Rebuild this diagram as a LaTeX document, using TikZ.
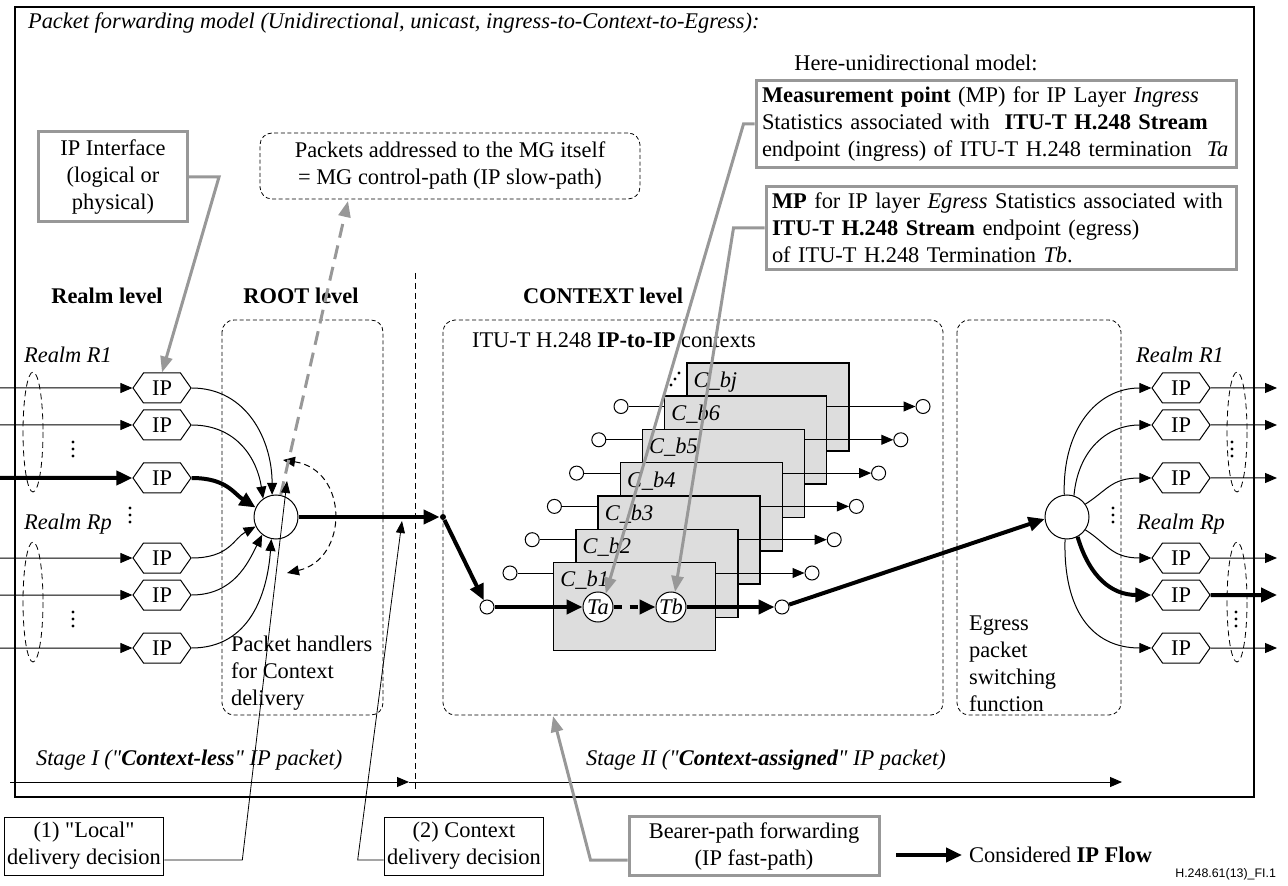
\documentclass[tikz,border=0pt]{standalone}
\usepackage{fontspec}
\setmainfont{Liberation Serif}
\newfontfamily\idfont{Liberation Sans}
\usetikzlibrary{arrows.meta,shapes.symbols,positioning}

\definecolor{leadgray}{RGB}{152,152,152}
\definecolor{ctxgray}{RGB}{221,221,221}
\newcommand{\figfont}{\fontsize{11.2pt}{13.5pt}\selectfont}
\newcommand{\qq}{\textquotedbl}

\tikzset{
  zone/.style={draw, line width=0.4pt, dash pattern=on 2pt off 1.3pt, rounded corners=6pt},
  ring/.style={draw, line width=0.4pt, dash pattern=on 3pt off 2pt},
  iphex/.style={draw, fill=white, line width=0.5pt, signal, signal to=west and east,
    signal pointer angle=110, minimum width=29pt, minimum height=15pt, inner sep=1pt},
  hub/.style={draw, fill=white, circle, line width=0.5pt, minimum size=22pt, inner sep=0pt},
  port/.style={draw, fill=white, circle, line width=0.5pt, minimum size=7pt, inner sep=0pt},
  term/.style={draw, fill=white, circle, line width=0.5pt, minimum size=15pt, inner sep=0pt, font=\figfont\itshape},
  joint/.style={circle, fill, minimum size=3pt, inner sep=0pt},
  ctxbox/.style={draw, fill=ctxgray, line width=0.7pt, minimum width=81pt, minimum height=44pt, anchor=north west},
  graybox/.style={draw=leadgray, line width=1.5pt, inner sep=3pt},
  notebox/.style={draw, line width=0.5pt, inner sep=1.5pt, align=center},
  flow/.style={line width=0.5pt, -{Triangle[length=6pt,width=5pt]}},
  bigflow/.style={line width=2pt, -{Triangle[length=8pt,width=7pt]}},
  leader/.style={leadgray, line width=1.5pt, -{Triangle[length=8pt,width=6pt]}},
  pointer/.style={line width=0.4pt, -{Triangle[length=6pt,width=4.5pt]}},
}

\begin{document}
\begin{tikzpicture}[x=0.5pt,y=-0.5pt,font=\figfont]
\useasboundingbox (0,0) rectangle (1288,886);

% frame and headings
\draw[line width=0.8pt] (15,7) rectangle (1254,797);
\node[anchor=base west, font=\figfont\itshape] (title) at (21,29)
  {Packet forwarding model (Unidirectional, unicast, ingress-to-Context-to-Egress):};
\node[anchor=base] (here) at (916,71) {Here-unidirectional model:};
\node[anchor=base, font=\figfont\bfseries] (realmlvl) at (107,304) {Realm level};
\node[anchor=base, font=\figfont\bfseries] (rootlvl) at (301,304) {ROOT level};
\node[anchor=base west, font=\figfont\bfseries] (ctxlvl) at (516,304) {CONTEXT level};
\draw[line width=0.4pt, dash pattern=on 3pt off 2pt] (415,273) -- (415,790);

% level zones
\draw[zone] (222,320) rectangle (383,715);
\draw[zone] (443,320) rectangle (943,715);
\draw[zone] (957,320) rectangle (1121,715);
\node[anchor=base west] (ctxtxt) at (465,348) {ITU-T H.248 \textbf{IP-to-IP} contexts};
\node[anchor=west, align=left] (handlers) at (224,673) {Packet handlers\\for Context\\delivery};
\node[anchor=west, align=left] (egtxt) at (962,664) {Egress\\packet\\switching\\function};

% callout boxes
\node[graybox, align=center, minimum width=74.5pt, minimum height=45pt] (ipif) at (113,177)
  {IP Interface\\(logical or\\physical)};
\node[zone, align=center, minimum width=190pt, minimum height=33pt, inner sep=2pt] (pk) at (450,166)
  {Packets addressed to the MG itself\\= MG control-path (IP slow-path)};
\node[graybox, text width=234pt, align=left] (mp1) at (996,124)
  {\textbf{Measurement point} (MP) for IP Layer \textit{Ingress}\\
   Statistics associated with \ \textbf{ITU-T H.248 Stream}\\
   endpoint (ingress) of ITU-T H.248 termination \ \textit{Ta}};
\node[graybox, text width=229pt, align=left] (mp2) at (1001,228)
  {\textbf{MP} for IP layer \textit{Egress} Statistics associated with\\
   \textbf{ITU-T H.248 Stream} endpoint (egress)\\
   of ITU-T H.248 Termination \textit{Tb}.};

% realms and IP interfaces
\foreach \i/\y in {1/388,2/425,3/478,4/558,5/595,6/648}{
  \coordinate (lsrc\i) at (0,\y);
  \coordinate (rdst\i) at (1277,\y);
  \node[iphex] (li\i) at (162,\y) {IP};
  \node[iphex] (ri\i) at (1181,\y) {IP};
}
\foreach \i in {1,2,4,5,6} \draw[flow] (lsrc\i) -- (li\i);
\draw[bigflow] (lsrc3) -- (li3);
\foreach \i in {1,2,3,4,6} \draw[flow] (ri\i) -- (rdst\i);
\draw[bigflow] (ri5) -- (rdst5);

\draw[ring] (33,432) ellipse (10 and 60);
\draw[ring] (33,602) ellipse (10 and 60);
\draw[ring] (1237,432) ellipse (10 and 60);
\draw[ring] (1237,602) ellipse (10 and 60);
\foreach \p in {(73,449),(130,515),(73,619),(1232,449),(1113,515),(1236,619)}
  \foreach \d in {-7,0,7} \fill \p ++(0,\d) circle[radius=0.8pt];

\node[anchor=base, font=\figfont\itshape] (r1l) at (68,363) {Realm R1};
\node[anchor=base, font=\figfont\itshape] (rpl) at (68,530) {Realm Rp};
\node[anchor=base, font=\figfont\itshape] (r1r) at (1180,363) {Realm R1};
\node[anchor=base, font=\figfont\itshape] (rpr) at (1181,530) {Realm Rp};

% ROOT packet handler
\node[hub] (root) at (276,517) {};
\draw[flow] (li1.east) .. controls +(55,0) and +(0,-55) .. (root.100);
\draw[flow] (li2.east) .. controls +(45,0) and +(-6,-40) .. (root.125);
\draw[bigflow] (li3.east) .. controls +(35,0) and +(-22,-14) .. (root.155);
\draw[flow] (li4.east) .. controls +(38,0) and +(-22,12) .. (root.205);
\draw[flow] (li5.east) .. controls +(42,0) and +(-14,28) .. (root.232);
\draw[flow] (li6.east) .. controls +(58,0) and +(-4,55) .. (root.258);
\coordinate (lpa) at (283,460);
\coordinate (lpb) at (287,573);
\draw[line width=0.5pt, dash pattern=on 3pt off 2pt,
  {Triangle[length=6pt,width=5pt]}-{Triangle[length=6pt,width=5pt]}]
  (lpa) .. controls (349,470) and (349,559) .. (lpb);

% egress switch
\node[hub] (eg) at (1067,517) {};
\draw[flow] (eg.97) .. controls +(-2,-65) and +(-55,0) .. (ri1.west);
\draw[flow] (eg.72) .. controls +(4,-45) and +(-45,0) .. (ri2.west);
\draw[flow] (eg.35) .. controls +(22,-14) and +(-40,0) .. (ri3.west);
\draw[flow] (eg.-35) .. controls +(22,14) and +(-40,0) .. (ri4.west);
\draw[bigflow] (eg.-62) .. controls +(12,40) and +(-40,0) .. (ri5.west);
\draw[flow] (eg.-95) .. controls +(-2,70) and +(-60,0) .. (ri6.west);

% stack of contexts, back to front
\foreach \k/\lab in {7/j,6/6,5/5,4/4,3/3,2/2,1/1}{
  \node[ctxbox] (cb\k) at ({553+22.2*(\k-1)},{562-33.3*(\k-1)}) {};
  \node[anchor=north west, inner sep=0pt, font=\figfont\itshape] (cbl\k)
    at ([xshift=3.5pt,yshift=-4.5pt]cb\k.north west) {C\_b\lab};
  \ifnum\k<7
    \node[port] (inp\k) at ({510+22.2*(\k-1)},{573-33.3*(\k-1)}) {};
    \node[port] (outp\k) at ({812+22.2*(\k-1)},{573-33.3*(\k-1)}) {};
    \draw[line width=0.5pt] (inp\k) -- (inp\k -| cb\k.west);
    \draw[flow] (inp\k -| cb\k.east) -- (outp\k);
  \fi
}
\foreach \d in {0,1,2} \fill ({671+4*\d},{385-6*\d}) circle[radius=0.8pt];

% considered flow
\node[joint] (split) at (443,517) {};
\node[port] (fin) at (487,607) {};
\node[term] (ta) at (598,607) {Ta};
\node[term] (tb) at (671,607) {Tb};
\node[port] (fout) at (782,607) {};
\draw[bigflow] (root) -- (split);
\draw[bigflow] (split) -- (fin);
\draw[bigflow] (fin) -- (ta);
\draw[bigflow, dash pattern=on 4pt off 4pt] (ta) -- (tb);
\draw[bigflow] (tb) -- (fout);
\draw[bigflow] (fout) -- (eg.185);

% gray leaders
\coordinate (pktip) at (348,201);
\draw[leader, dash pattern=on 7pt off 4pt] (root.78) -- (pktip);
\draw[leader] (ipif.east) -- ++(30,0) -- (li1.north);
\draw[leader] (mp1.west) -- ++(-11,0) -- (ta.60);
\draw[leader] (mp2.west) -- ++(-31,0) -- (tb.75);

% stages
\coordinate (s0) at (10,782);
\coordinate (s1) at (409,782);
\coordinate (s2) at (1122,782);
\draw[flow] (s0) -- (s1);
\draw[flow] (s1) -- (s2);
\node[anchor=base west, font=\figfont\itshape] (stage1) at (29,765)
  {Stage I (\qq\textbf{Context-less}\qq\ IP packet)};
\node[anchor=base west, font=\figfont\itshape] (stage2) at (579,765)
  {Stage II (\qq\textbf{Context-assigned}\qq\ IP packet)};

% bottom notes
\node[notebox, minimum width=74.5pt, minimum height=29pt] (local) at (84,846)
  {(1) \qq Local\qq\\delivery decision};
\node[notebox, minimum width=74pt, minimum height=29pt] (ctxdec) at (464,846)
  {(2) Context\\delivery decision};
\node[graybox, align=center, minimum width=125pt, minimum height=29pt] (bearer) at (754,846)
  {Bearer-path forwarding\\(IP fast-path)};
\coordinate (loctip) at (287,481);
\coordinate (ctxtip) at (402,521);
\coordinate (fasttip) at (553,716);
\draw[pointer] ([yshift=-7pt]local.east) -- ++(78,0) -- (loctip);
\draw[pointer] ([yshift=-7pt]ctxdec.west) -- ++(-26,0) -- (ctxtip);
\draw[leader] ([yshift=-7pt]bearer.west) -- ++(-37,0) -- (fasttip);

\node[anchor=west] (keyflow) at (962,855) {Considered \textbf{IP Flow}};
\coordinate (keytail) at (896,855);
\draw[bigflow] (keytail) -- (keyflow);
\node[anchor=base east, font=\idfont\fontsize{6.2pt}{7pt}\selectfont] (figid) at (1283,877) {H.248.61(13)\_FI.1};
\end{tikzpicture}
\end{document}
